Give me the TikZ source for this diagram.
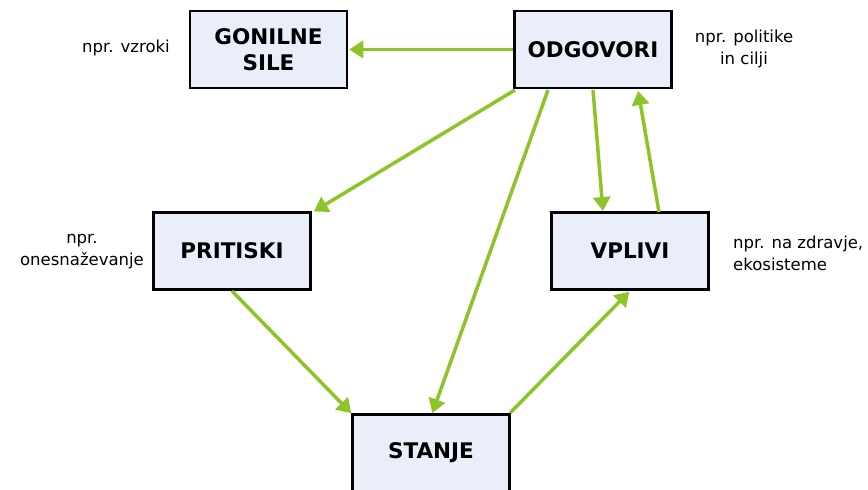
\documentclass[tikz,border=0pt]{standalone}
\usepackage{fontspec}
\setmainfont{DejaVu Sans}
\usetikzlibrary{arrows.meta}
\definecolor{boxfill}{RGB}{234,238,248}
\definecolor{arrgreen}{RGB}{141,196,40}
\begin{document}
\begin{tikzpicture}[x=1pt,y=-1pt,
  box/.style={draw=black,line width=2.5pt,fill=boxfill,minimum width=157pt,minimum height=77pt,inner sep=0pt,align=center,font=\fontsize{21.5}{26}\selectfont\bfseries},
  lbl/.style={font=\fontsize{16.5}{22}\selectfont,inner sep=0pt},
  arr/.style={draw=arrgreen,line width=3.5pt,-{Triangle[length=14pt,width=17pt]},shorten >=1pt}]
\useasboundingbox (0,0) rectangle (868,490);
\node[box] (gon) at (268.5,49.5) {GONILNE\\SILE};
\node[box] (odg) at (593,49.5) {ODGOVORI};
\node[box] (pri) at (232,251) {PRITISKI};
\node[box] (vpl) at (630,251) {VPLIVI};
\node[box] (sta) at (431,453) {STANJE};
\node[lbl] (l1) at (126,48) {npr. vzroki};
\node[lbl,align=center] (l2) at (744,49) {npr. politike\\in cilji};
\node[lbl,align=center] (l3) at (82,252) {npr.\\onesnaževanje};
\node[lbl,align=left,anchor=west] (l4) at (733,253) {npr. na zdravje,\\ekosisteme};
\coordinate (o1) at (515,90);
\coordinate (o2) at (548,90);
\coordinate (o3) at (593,90);
\coordinate (o4) at (638,90);
\draw[arr] (odg.west) -- (gon.east);
\draw[arr] (o1) -- (313,212);
\draw[arr] (o2) -- (432,414);
\draw[arr] (o3) -- (603,212);
\draw[arr] (659,212) -- (o4);
\draw[arr] (232,291) -- (352,414);
\draw[arr] (510,413) -- (630,291);
\end{tikzpicture}
\end{document}
